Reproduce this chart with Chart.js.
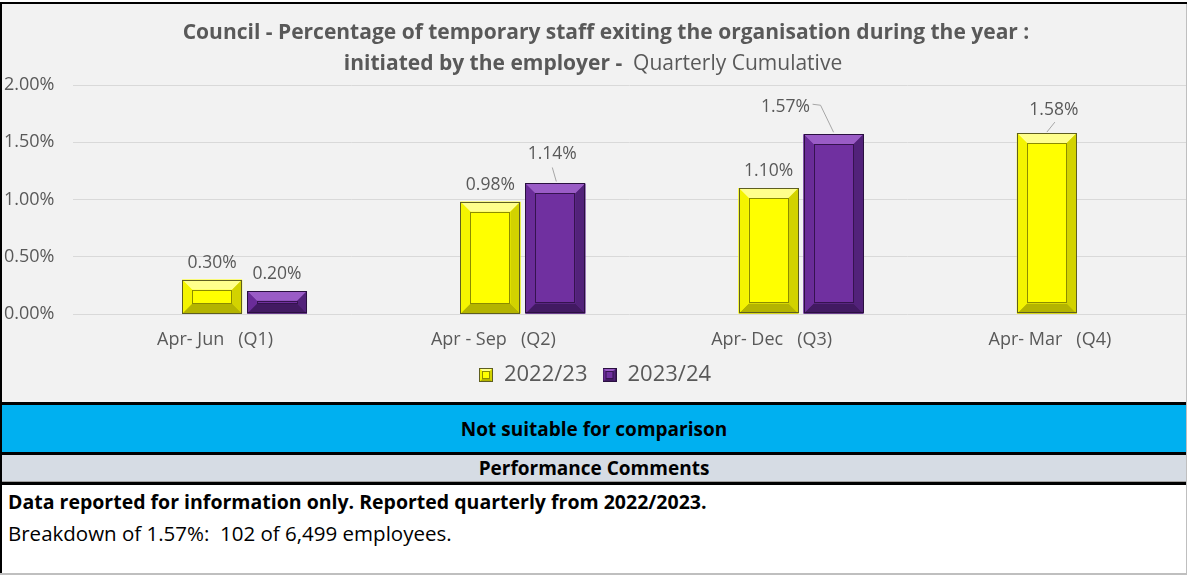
<!DOCTYPE html>
<html>
<head>
<meta charset="utf-8">
<script src="https://cdn.jsdelivr.net/npm/chart.js@4.4.1/dist/chart.umd.min.js"></script>
<style>
body { margin: 0; background: #fff; font-family: 'Open Sans', sans-serif; }
.box { position: absolute; }
#panel { left: 2px; top: 4px; width: 1184px; height: 398px; background: #f2f2f2; }
.band { display: flex; align-items: center; justify-content: center; font-weight: bold; font-size: 19px; color: #000; }
</style>
</head>
<body>
<div class="box" style="left:0;top:2px;width:1187px;height:2px;background:#000"></div>
<div class="box" style="left:0;top:2px;width:2px;height:573px;background:#000"></div>
<div class="box" style="left:1186px;top:4px;width:1px;height:571px;background:#bfbfbf"></div>
<div class="box" id="panel"><canvas id="myChart" width="1184" height="398"></canvas></div>
<div class="box" style="left:2px;top:402px;width:1184px;height:3px;background:#000"></div>
<div class="box band" style="left:2px;top:405px;width:1184px;height:47px;background:#00b0f0">Not suitable for comparison</div>
<div class="box" style="left:2px;top:452px;width:1184px;height:3px;background:#000"></div>
<div class="box band" style="left:2px;top:455px;width:1184px;height:27px;background:#d6dce4;border-bottom:1px solid #a0a0a0;box-sizing:border-box">Performance Comments</div>
<div class="box" style="left:2px;top:482px;width:1184px;height:3px;background:#000"></div>
<div class="box" style="left:2px;top:485px;width:1184px;height:88px;background:#fff">
  <div style="position:absolute;left:6px;top:3px;font-weight:bold;font-size:19.5px;color:#000">Data reported for information only. Reported quarterly from 2022/2023.</div>
  <div style="position:absolute;left:6px;top:34px;font-size:20.5px;color:#000">Breakdown of 1.57%:&nbsp; 102 of 6,499 employees.</div>
</div>
<div class="box" style="left:0;top:573px;width:1187px;height:2px;background:#bfbfbf"></div>

<script>
const quarters = ['Apr- Jun   (Q1)', 'Apr - Sep   (Q2)', 'Apr- Dec   (Q3)', 'Apr- Mar   (Q4)']
const values2223 = [0.30, 0.98, 1.10, 1.58]
const values2324 = [0.20, 1.14, 1.57, null]
const yTicks = [0, 0.5, 1, 1.5, 2]
const seriesNames = ['2022/23', '2023/24']

const textGrey = '#595959'
const fontName = "'Open Sans', sans-serif"

// colours for the bevelled bars: face, light, left, right, bottom, inner line, outline
const bevels = [
    { face: '#ffff00', light: '#ffff8c', left: '#f4f400', right: '#d2d200', bottom: '#b4b400', inner: '#8c8c00', outline: '#5e5e20' },
    { face: '#7030a0', light: '#9a5cc6', left: '#6a2c98', right: '#52227a', bottom: '#421a62', inner: '#35134f', outline: '#2a1040' }
]

const drawBevel = (ctx, l, t, r, bot, c, size) => {
    const w = r - l, h = bot - t
    const b = Math.max(0, Math.min(size, h / 2 - 1.5, w / 2 - 2))
    const poly = (pts, col) => {
        ctx.fillStyle = col
        ctx.beginPath()
        ctx.moveTo(pts[0][0], pts[0][1])
        pts.slice(1).forEach(p => ctx.lineTo(p[0], p[1]))
        ctx.closePath()
        ctx.fill()
    }
    ctx.fillStyle = c.face
    ctx.fillRect(l, t, w, h)
    poly([[l, t], [r, t], [r - b, t + b], [l + b, t + b]], c.light)
    poly([[r, t], [r, bot], [r - b, bot - b], [r - b, t + b]], c.right)
    poly([[l, bot], [r, bot], [r - b, bot - b], [l + b, bot - b]], c.bottom)
    poly([[l, t], [l, bot], [l + b, bot - b], [l + b, t + b]], c.left)
    ctx.lineWidth = 1
    if (b > 2) {
        ctx.strokeStyle = c.inner
        ctx.strokeRect(Math.round(l + b) + 0.5, Math.round(t + b) + 0.5, Math.round(w - 2 * b) - 1, Math.max(0, Math.round(h - 2 * b) - 1))
    }
    ctx.strokeStyle = c.outline
    ctx.strokeRect(Math.round(l) + 0.5, Math.round(t) + 0.5, Math.round(w) - 1, Math.round(h) - 1)
}

// small bevelled squares for the legend
const legendIcons = bevels.map(c => {
    const cv = document.createElement('canvas')
    cv.width = 14
    cv.height = 14
    drawBevel(cv.getContext('2d'), 0, 0, 14, 14, c, 3)
    return cv
})

const bevelPlugin = {
    id: 'bevel',
    afterDatasetsDraw(chart) {
        const ctx = chart.ctx
        ctx.save()
        for (let d = 1; d < chart.data.datasets.length; d++) {
            const meta = chart.getDatasetMeta(d)
            meta.data.forEach((bar, i) => {
                if (chart.data.datasets[d].data[i] == null) return
                const p = bar.getProps(['x', 'y', 'base', 'width'])
                drawBevel(ctx, p.x - p.width / 2, p.y, p.x + p.width / 2, p.base, bevels[d - 1], 10)
            })
        }
        ctx.restore()
    }
}

// where a label sits away from its bar, with a leader line
const labelShift = {
    '2-1': { dx: -3, dy: -29, line: [[-3, -16], [1, -2]] },
    '2-2': { dx: -48, dy: -27, line: [[-21, -30], [-13, -29], [0, -2]] },
    '1-3': { dx: 7, dy: -23, line: [[8, -11], [0, -1]] }
}

const labelPlugin = {
    id: 'valueLabels',
    afterDatasetsDraw(chart) {
        const ctx = chart.ctx
        ctx.save()
        ctx.font = '17.5px ' + fontName
        ctx.fillStyle = textGrey
        ctx.textAlign = 'center'
        ctx.textBaseline = 'middle'
        for (let d = 1; d < chart.data.datasets.length; d++) {
            const meta = chart.getDatasetMeta(d)
            meta.data.forEach((bar, i) => {
                const v = chart.data.datasets[d].data[i]
                if (v == null) return
                const s = labelShift[d + '-' + i]
                let dx = 0, dy = -17
                if (s) {
                    dx = s.dx
                    dy = s.dy
                    ctx.strokeStyle = '#a6a6a6'
                    ctx.lineWidth = 1
                    ctx.beginPath()
                    s.line.forEach((pt, k) => {
                        if (k == 0) ctx.moveTo(bar.x + pt[0], bar.y + pt[1])
                        else ctx.lineTo(bar.x + pt[0], bar.y + pt[1])
                    })
                    ctx.stroke()
                }
                ctx.fillText(v.toFixed(2) + '%', bar.x + dx, bar.y + dy)
            })
        }
        ctx.restore()
    }
}

const titlePlugin = {
    id: 'twoPartTitle',
    afterDraw(chart) {
        const ctx = chart.ctx
        ctx.save()
        ctx.fillStyle = textGrey
        ctx.textBaseline = 'middle'
        ctx.textAlign = 'center'
        ctx.font = 'bold 21px ' + fontName
        ctx.fillText('Council - Percentage of temporary staff exiting the organisation during the year :', 604, 29)
        const part1 = 'initiated by the employer -  '
        const part2 = 'Quarterly Cumulative'
        const w1 = ctx.measureText(part1).width
        ctx.font = '21px ' + fontName
        const w2 = ctx.measureText(part2).width
        let x = 591 - (w1 + w2) / 2
        ctx.textAlign = 'left'
        ctx.font = 'bold 21px ' + fontName
        ctx.fillText(part1, x, 60)
        ctx.font = '21px ' + fontName
        ctx.fillText(part2, x + w1, 60)
        ctx.restore()
    }
}

const ctx = document.querySelector('#myChart').getContext('2d')

const myChart = new Chart(ctx, {
    type: 'bar',
    data: {
        labels: quarters,
        datasets: [
            // empty first series, keeps the pair of bars right of the label like the original
            { label: '', data: quarters.map(() => null), backgroundColor: 'rgba(0,0,0,0)' },
            { label: seriesNames[0], data: values2223, backgroundColor: bevels[0].face, borderWidth: 0 },
            { label: seriesNames[1], data: values2324, backgroundColor: bevels[1].face, borderWidth: 0 }
        ]
    },
    options: {
        responsive: false,
        animation: false,
        events: [],
        categoryPercentage: 0.70,
        barPercentage: 0.923,
        layout: { padding: { top: 81, left: 2, right: 0, bottom: 6 } },
        scales: {
            x: {
                grid: { display: false, drawTicks: false },
                border: { display: false },
                ticks: { color: textGrey, font: { family: fontName, size: 18 }, padding: 15, maxRotation: 0, labelOffset: 3 },
                afterFit: s => { s.height = 35 }
            },
            y: {
                min: 0,
                max: 2,
                grid: { color: '#d9d9d9', drawTicks: false },
                border: { display: false },
                afterBuildTicks: s => { s.ticks = yTicks.map(v => ({ value: v })) },
                ticks: {
                    color: textGrey,
                    font: { family: fontName, size: 18 },
                    crossAlign: 'far',
                    padding: 0,
                    callback: v => v.toFixed(2) + '%'
                },
                afterFit: s => { s.width = 69 }
            }
        },
        plugins: {
            tooltip: { enabled: false },
            legend: {
                position: 'bottom',
                labels: {
                    color: textGrey,
                    font: { family: fontName, size: 22 },
                    boxWidth: 14,
                    boxHeight: 14,
                    padding: 15,
                    usePointStyle: true,
                    filter: item => item.text !== '',
                    generateLabels: chart => {
                        const items = Chart.defaults.plugins.legend.labels.generateLabels(chart)
                        items.forEach(it => {
                            if (it.datasetIndex > 0) it.pointStyle = legendIcons[it.datasetIndex - 1]
                        })
                        return items
                    }
                }
            }
        }
    },
    plugins: [bevelPlugin, labelPlugin, titlePlugin]
})
</script>
</body>
</html>
